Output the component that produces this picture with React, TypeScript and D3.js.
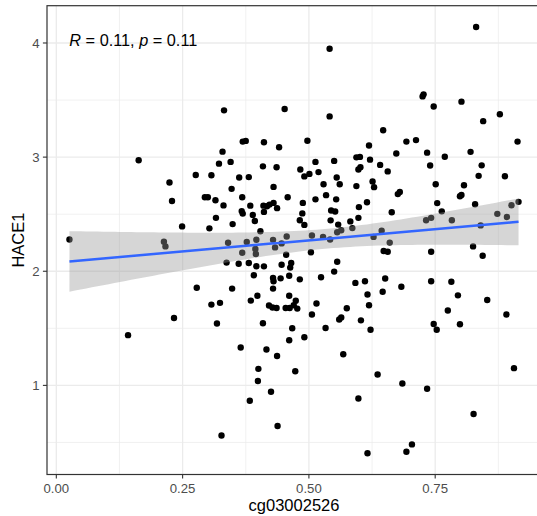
import React from "react";
import * as d3 from "d3";

const methylation: number[] = [
  0.026, 0.163, 0.332, 0.369, 0.375, 0.411, 0.329, 0.322, 0.345, 0.276,
  0.307, 0.362, 0.381, 0.409, 0.441, 0.436, 0.224, 0.229, 0.294, 0.300,
  0.315, 0.331, 0.347, 0.368, 0.430, 0.384, 0.410, 0.417, 0.422, 0.430,
  0.437, 0.411, 0.367, 0.369, 0.389, 0.393, 0.316, 0.349, 0.303, 0.249,
  0.404, 0.213, 0.216, 0.340, 0.377, 0.396, 0.429, 0.368, 0.394, 0.395,
  0.433, 0.337, 0.361, 0.381, 0.396, 0.411, 0.391, 0.429, 0.430, 0.278,
  0.348, 0.429, 0.307, 0.324, 0.385, 0.398, 0.421, 0.428, 0.436, 0.233,
  0.318, 0.409, 0.142, 0.365, 0.416, 0.437, 0.400, 0.399, 0.425, 0.383,
  0.438, 0.327, 0.452, 0.541, 0.497, 0.647, 0.619, 0.693, 0.673, 0.513,
  0.550, 0.594, 0.601, 0.621, 0.641, 0.483, 0.491, 0.501, 0.519, 0.598,
  0.602, 0.656, 0.555, 0.561, 0.529, 0.594, 0.626, 0.629, 0.458, 0.513,
  0.534, 0.554, 0.676, 0.680, 0.488, 0.615, 0.599, 0.544, 0.552, 0.487,
  0.664, 0.482, 0.491, 0.543, 0.598, 0.582, 0.558, 0.586, 0.564, 0.556,
  0.456, 0.506, 0.528, 0.542, 0.644, 0.628, 0.660, 0.446, 0.455, 0.504,
  0.648, 0.656, 0.556, 0.550, 0.446, 0.465, 0.463, 0.444, 0.461, 0.482,
  0.524, 0.592, 0.611, 0.651, 0.683, 0.461, 0.474, 0.470, 0.477, 0.454,
  0.462, 0.515, 0.506, 0.575, 0.564, 0.560, 0.616, 0.646, 0.619, 0.603,
  0.622, 0.467, 0.461, 0.491, 0.533, 0.568, 0.473, 0.636, 0.685, 0.598,
  0.616, 0.693, 0.704, 0.734, 0.826, 0.906, 0.742, 0.844, 0.742, 0.782,
  0.795, 0.853, 0.775, 0.747, 0.753, 0.799, 0.891, 0.541, 0.831, 0.725,
  0.727, 0.747, 0.802, 0.878, 0.845, 0.913, 0.712, 0.734, 0.769, 0.820,
  0.740, 0.842, 0.836, 0.888, 0.751, 0.807, 0.799, 0.802, 0.754, 0.829,
  0.763, 0.732, 0.742, 0.783, 0.840, 0.873, 0.892, 0.901, 0.915, 0.825,
];

const expression: number[] = [
  2.278, 2.972, 3.410, 3.136, 3.142, 3.130, 3.048, 2.943, 2.958, 2.844,
  2.841, 2.822, 2.825, 2.919, 3.086, 2.911, 2.778, 2.615, 2.648, 2.648,
  2.622, 2.577, 2.722, 2.648, 2.739, 2.575, 2.575, 2.569, 2.584, 2.599,
  2.553, 2.520, 2.527, 2.505, 2.494, 2.440, 2.468, 2.413, 2.376, 2.393,
  2.350, 2.258, 2.218, 2.250, 2.257, 2.276, 2.275, 2.162, 2.196, 2.151,
  2.209, 2.076, 2.066, 2.072, 2.044, 2.043, 1.965, 1.942, 1.912, 1.855,
  1.848, 1.848, 1.708, 1.723, 1.743, 1.785, 1.700, 1.682, 1.678, 1.590,
  1.542, 1.545, 1.440, 1.332, 1.314, 1.257, 1.145, 1.039, 0.944, 0.865,
  0.644, 0.561, 3.422, 3.357, 3.144, 3.236, 3.102, 3.136, 3.032, 2.958,
  2.967, 2.998, 3.002, 2.978, 2.932, 2.891, 2.831, 2.853, 2.869, 2.891,
  2.912, 2.875, 2.822, 2.762, 2.762, 2.746, 2.787, 2.737, 2.648, 2.630,
  2.667, 2.630, 2.676, 2.694, 2.599, 2.604, 2.562, 2.532, 2.523, 2.507,
  2.517, 2.447, 2.406, 2.446, 2.468, 2.437, 2.409, 2.378, 2.359, 2.342,
  2.304, 2.313, 2.301, 2.278, 2.355, 2.301, 2.251, 2.244, 2.144, 2.166,
  2.177, 2.171, 2.083, 1.997, 2.057, 2.072, 2.032, 1.938, 1.960, 1.929,
  1.947, 1.898, 1.912, 1.936, 1.864, 1.785, 1.742, 1.702, 1.673, 1.678,
  1.678, 1.717, 1.621, 1.676, 1.595, 1.577, 1.796, 1.820, 1.702, 1.570,
  1.487, 1.501, 1.396, 1.422, 1.503, 1.273, 1.124, 1.095, 1.017, 0.885,
  0.406, 0.419, 0.483, 0.970, 0.750, 1.151, 2.171, 2.136, 1.912, 1.908,
  1.789, 1.748, 1.656, 1.538, 1.487, 1.536, 1.621, 3.950, 4.140, 3.532,
  3.550, 3.444, 3.486, 3.375, 3.315, 3.136, 3.149, 3.039, 3.003, 3.046,
  2.927, 2.928, 2.836, 2.832, 2.762, 2.753, 2.657, 2.669, 2.597, 2.587,
  2.525, 2.447, 2.468, 2.447, 2.402, 2.503, 2.476, 2.578, 2.608, 2.218,
];

const xTicks = [0, 0.25, 0.5, 0.75];
const xMinor = [0.125, 0.375, 0.625, 0.875];
const yTicks = [1, 2, 3, 4];
const yMinor = [0.5, 1.5, 2.5, 3.5];
const xTitle = "cg03002526";
const yTitle = "HACE1";
const statR = "0.11";
const statP = "0.11";

export default function App() {
  const W = 537;
  const H = 516;
  const left = 47;
  const right = 541;
  const top = 5.7;
  const bottom = 474.5;
  const font = "'Liberation Sans', Arial, Helvetica, sans-serif";

  const [x0, x1] = d3.extent(methylation) as [number, number];
  const [y0, y1] = d3.extent(expression) as [number, number];
  const xp = (x1 - x0) * 0.05;
  const yp = (y1 - y0) * 0.05;
  const x = d3.scaleLinear().domain([x0 - xp, x1 + xp]).range([left, right]);
  const y = d3.scaleLinear().domain([y0 - yp, y1 + yp]).range([bottom, top]);

  // linear regression with 95% confidence band
  const n = methylation.length;
  const mx = d3.mean(methylation) as number;
  const my = d3.mean(expression) as number;
  let sxx = 0;
  let sxy = 0;
  for (let i = 0; i < n; i++) {
    sxx += (methylation[i] - mx) ** 2;
    sxy += (methylation[i] - mx) * (expression[i] - my);
  }
  const slope = sxy / sxx;
  const icpt = my - slope * mx;
  let sse = 0;
  for (let i = 0; i < n; i++) {
    sse += (expression[i] - (icpt + slope * methylation[i])) ** 2;
  }
  const s = Math.sqrt(sse / (n - 2));
  const tq = 1.97;
  const grid = d3.range(0, 81).map((k) => x0 + ((x1 - x0) * k) / 80);
  const fit = grid.map((g) => {
    const yh = icpt + slope * g;
    const se = s * Math.sqrt(1 / n + (g - mx) ** 2 / sxx);
    return { g, yh, lo: yh - tq * se, hi: yh + tq * se };
  });
  const area = d3
    .area<{ g: number; yh: number; lo: number; hi: number }>()
    .x((d) => x(d.g))
    .y0((d) => y(d.lo))
    .y1((d) => y(d.hi));
  const line = d3
    .line<{ g: number; yh: number }>()
    .x((d) => x(d.g))
    .y((d) => y(d.yh));

  return (
    <svg
      width={W}
      height={H}
      style={{ position: "absolute", left: 0, top: 0, background: "#fff" }}
      fontFamily={font}
    >
      <defs>
        <clipPath id="panel">
          <rect x={left} y={top} width={right - left} height={bottom - top} />
        </clipPath>
      </defs>
      <rect x={0} y={0} width={W} height={H} fill="#fff" />
      <g clipPath="url(#panel)">
        {xMinor.map((t) => (
          <line key={"xm" + t} x1={x(t)} x2={x(t)} y1={top} y2={bottom} stroke="#EBEBEB" strokeWidth={0.7} />
        ))}
        {yMinor.map((t) => (
          <line key={"ym" + t} x1={left} x2={right} y1={y(t)} y2={y(t)} stroke="#EBEBEB" strokeWidth={0.7} />
        ))}
        {xTicks.map((t) => (
          <line key={"xg" + t} x1={x(t)} x2={x(t)} y1={top} y2={bottom} stroke="#EBEBEB" strokeWidth={1.3} />
        ))}
        {yTicks.map((t) => (
          <line key={"yg" + t} x1={left} x2={right} y1={y(t)} y2={y(t)} stroke="#EBEBEB" strokeWidth={1.3} />
        ))}
        {methylation.map((v, i) => (
          <circle key={i} cx={x(v)} cy={y(expression[i])} r={3.2} fill="#000" />
        ))}
        <path d={area(fit) || ""} fill="#999999" fillOpacity={0.4} />
        <path d={line(fit) || ""} fill="none" stroke="#3366FF" strokeWidth={2.5} />
      </g>
      <rect x={left} y={top} width={right - left} height={bottom - top} fill="none" stroke="#333333" strokeWidth={1.2} />
      {xTicks.map((t) => (
        <g key={"xt" + t}>
          <line x1={x(t)} x2={x(t)} y1={bottom} y2={bottom + 4.1} stroke="#333333" strokeWidth={1.1} />
          <text x={x(t)} y={492.5} textAnchor="middle" fontSize={13.2} fill="#4D4D4D">
            {d3.format(".2f")(t)}
          </text>
        </g>
      ))}
      {yTicks.map((t) => (
        <g key={"yt" + t}>
          <line x1={left - 4.1} x2={left} y1={y(t)} y2={y(t)} stroke="#333333" strokeWidth={1.1} />
          <text x={39.5} y={y(t)} dy="0.35em" textAnchor="end" fontSize={13.2} fill="#4D4D4D">
            {t}
          </text>
        </g>
      ))}
      <text x={(left + right) / 2} y={510.5} textAnchor="middle" fontSize={16.5} fill="#000">
        {xTitle}
      </text>
      <text
        transform={`translate(24,${(top + bottom) / 2}) rotate(-90)`}
        textAnchor="middle"
        fontSize={16.5}
        fill="#000"
      >
        {yTitle}
      </text>
      <text x={69.3} y={45.7} fontSize={16.3} fill="#000">
        <tspan fontStyle="italic">R</tspan>
        <tspan> = {statR}, </tspan>
        <tspan fontStyle="italic">p</tspan>
        <tspan> = {statP}</tspan>
      </text>
    </svg>
  );
}
